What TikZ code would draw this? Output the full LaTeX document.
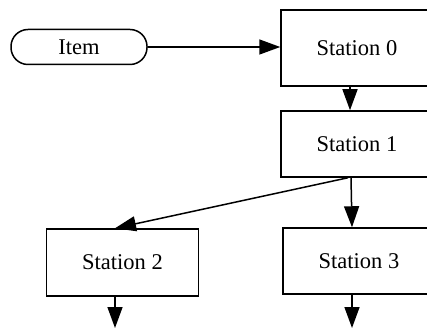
\documentclass[tikz,border=0pt]{standalone}
\usepackage{fontspec}
\setmainfont{Liberation Serif}
\usetikzlibrary{arrows.meta}
\begin{document}
\begin{tikzpicture}[x=1pt,y=1pt,
  lbl/.style={font=\fontsize{22.5pt}{27pt}\selectfont},
  stationbox/.style={lbl, draw, line width=1.5pt, rectangle, minimum width=152pt, minimum height=67pt, inner sep=0pt},
  itembox/.style={lbl, draw, line width=1.5pt, rectangle, rounded corners=17pt, minimum width=136pt, minimum height=35pt, inner sep=0pt},
  arr/.style={line width=1.5pt, -{Triangle[length=21pt,width=15pt]}}]
  \useasboundingbox (0,0) rectangle (427,-328);
  \clip (0,0) rectangle (427,-328);
  % nodes
  \node[itembox] (item) at (79,-47) {Item};
  \node[stationbox, minimum height=76pt] (s0) at (357,-48) {Station 0};
  \node[stationbox, minimum height=66pt] (s1) at (357,-144) {Station 1};
  \node[stationbox] (s2) at (122.5,-262.5) {Station 2};
  \node[stationbox, minimum height=66pt] (s3) at (359,-261) {Station 3};
  % helper coordinates for arrow positions
  \coordinate (cx) at (350,0);
  \coordinate (cl) at (115,0);
  \coordinate (o2) at (115,-328);
  \coordinate (o3) at (352,-328);
  % connectors
  \draw[arr] (item.east) -- (item.east -| s0.west);
  \draw[arr] (s0.south -| cx) -- (s1.north -| cx);
  \draw[arr] ([xshift=-9pt]s1.south) -- (s2.north -| cl);
  \draw[arr] ([xshift=-6pt]s1.south) -- ([xshift=-7pt]s3.north);
  \draw[arr] (s2.south -| o2) -- (o2);
  \draw[arr] (s3.south -| o3) -- (o3);
\end{tikzpicture}
\end{document}
